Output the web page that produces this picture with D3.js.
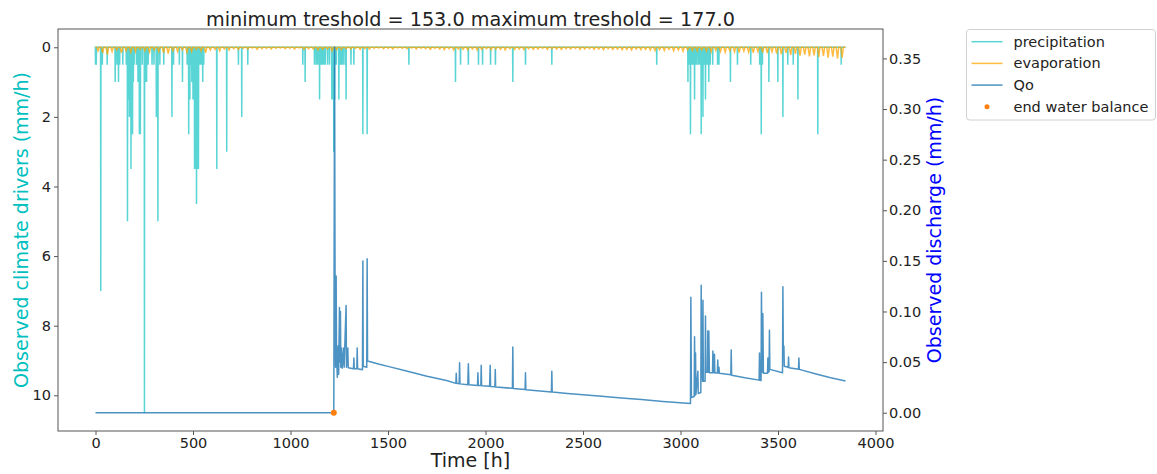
<!DOCTYPE html>
<html>
<head>
<meta charset="utf-8">
<script src="https://cdn.jsdelivr.net/npm/d3@7"></script>
<style>
  body { margin: 0; background: #fff; }
  svg { display: block; font-family: "DejaVu Sans", sans-serif; }
</style>
</head>
<body>
<div id="chart"></div>
<script>
// rain hours: [time (h), intensity (mm/h)]
var precipEvents = [[0, 0.5], [4, 0.5], [27, 7.0], [35, 0.5], [60, 0.5], [101, 1.0], [110, 0.5], [118, 1.0],
  [124, 0.5], [140, 0.5], [158, 0.5], [164, 5.0], [170, 1.5], [174, 2.0], [178, 1.5], [182, 3.5], [186, 2.0],
  [190, 2.5], [194, 1.0], [198, 0.5], [210, 0.5], [218, 1.0], [225, 2.5], [230, 2.5], [240, 0.5], [251, 10.5],
  [256, 1.0], [262, 1.0], [270, 0.5], [290, 0.5], [300, 0.5], [312, 2.0], [320, 5.0], [330, 0.5], [350, 0.5],
  [392, 2.0], [400, 0.5], [430, 0.5], [446, 1.0], [470, 0.5], [478, 2.5], [484, 1.5], [488, 0.5], [494, 1.0],
  [500, 1.5], [508, 3.5], [512, 3.5], [515, 3.5], [518, 4.5], [522, 3.5], [528, 3.5], [533, 0.5], [540, 0.5],
  [545, 0.5], [550, 1.0], [555, 0.5], [622, 3.5], [673, 3.0], [733, 0.5], [750, 2.0], [781, 0.5],
  [1063, 0.5], [1075, 1.0], [1123, 0.5], [1132, 0.5], [1140, 0.5], [1149, 1.5], [1155, 0.5], [1160, 0.5],
  [1165, 0.5], [1170, 0.5], [1178, 0.5], [1190, 0.5], [1200, 0.5], [1212, 1.5], [1217, 1.5], [1222, 3.0],
  [1226, 1.5], [1230, 0.5], [1235, 0.5], [1248, 1.5], [1255, 0.5], [1262, 0.5], [1270, 0.5], [1280, 0.5],
  [1285, 1.5], [1310, 0.5], [1325, 0.5], [1371, 2.5], [1393, 2.5], [1607, 0.5],
  [1846, 1.0], [1872, 0.5], [1912, 0.5], [1964, 0.5], [1985, 0.5], [2026, 0.5], [2051, 0.5], [2140, 1.0],
  [2205, 0.5], [2340, 0.5], [2878, 0.5],
  [3038, 1.0], [3045, 0.5], [3051, 2.5], [3058, 0.5], [3065, 0.5], [3072, 1.5], [3077, 0.5], [3081, 0.5],
  [3090, 0.5], [3097, 0.5], [3106, 2.5], [3115, 2.0], [3120, 0.5], [3128, 1.5], [3134, 0.5], [3140, 0.5],
  [3145, 1.0], [3152, 0.5], [3165, 0.5], [3190, 0.5], [3197, 0.5], [3256, 1.0], [3292, 0.5], [3360, 0.5],
  [3406, 0.5], [3414, 2.5], [3420, 0.5], [3453, 1.0], [3499, 1.0], [3525, 2.0], [3550, 0.5], [3578, 0.5],
  [3602, 1.5], [3704, 2.5], [3824, 0.5]];

// daily evaporation peak (mm/h), one value per day
var evapPeak = [0.10, 0.16, 0.21, 0.12, 0.08, 0.16, 0.10, 0.14, 0.12, 0.06,
  0.10, 0.14, 0.08, 0.12, 0.16, 0.18, 0.10, 0.12, 0.08, 0.14,
  0.12, 0.06, 0.10, 0.16, 0.08, 0.06, 0.10, 0.05, 0.08, 0.04,
  0.06, 0.03, 0.05, 0.02, 0.06, 0.04, 0.03, 0.05, 0.03, 0.02,
  0.04, 0.03, 0.05, 0.02, 0.06, 0.04, 0.05, 0.08, 0.06, 0.05,
  0.10, 0.07, 0.06, 0.04, 0.05, 0.03, 0.06, 0.04, 0.05, 0.03,
  0.02, 0.04, 0.03, 0.05, 0.02, 0.03, 0.04, 0.02, 0.05, 0.03,
  0.04, 0.06, 0.03, 0.05, 0.07, 0.04, 0.08, 0.05, 0.06, 0.07,
  0.05, 0.08, 0.06, 0.04, 0.07, 0.05, 0.06, 0.08, 0.04, 0.06,
  0.05, 0.07, 0.04, 0.06, 0.05, 0.03, 0.06, 0.04, 0.05, 0.06,
  0.04, 0.05, 0.03, 0.06, 0.05, 0.04, 0.06, 0.05, 0.07, 0.04,
  0.06, 0.05, 0.07, 0.06, 0.08, 0.05, 0.07, 0.06, 0.08, 0.09,
  0.07, 0.09, 0.06, 0.10, 0.08, 0.11, 0.07, 0.09, 0.10, 0.08,
  0.11, 0.13, 0.09, 0.12, 0.14, 0.10, 0.13, 0.15, 0.11, 0.14,
  0.16, 0.12, 0.15, 0.17, 0.13, 0.18, 0.20, 0.16, 0.22, 0.19,
  0.24, 0.21, 0.26, 0.23, 0.28, 0.25, 0.30, 0.27, 0.33, 0.30];

// observed discharge: [time (h), Qo (mm/h)]
var qoSeries = [[0, 0], [1222, 0], [1226, 0.361], [1229, 0.07], [1231, 0.045], [1234, 0.135], [1236, 0.06],
  [1240, 0.035], [1244, 0.066], [1247, 0.038], [1251, 0.104], [1253, 0.05], [1256, 0.10], [1258, 0.045],
  [1262, 0.064], [1265, 0.044], [1273, 0.064], [1275, 0.045], [1285, 0.106], [1287, 0.045], [1294, 0.064],
  [1296, 0.0445], [1323, 0.0435], [1325, 0.054], [1327, 0.0435], [1340, 0.0435], [1342, 0.064], [1344, 0.0435],
  [1369, 0.0425], [1371, 0.15], [1373, 0.046], [1391, 0.045], [1393, 0.152], [1395, 0.051],
  [1456, 0.0478], [1500, 0.0458], [1600, 0.0409], [1700, 0.036], [1800, 0.0318], [1848, 0.029], [1850, 0.039],
  [1852, 0.029], [1865, 0.0287],
  [1867, 0.0494], [1869, 0.0285], [1909, 0.0277], [1912, 0.0484], [1915, 0.0276], [1959, 0.027], [1961, 0.0395],
  [1963, 0.027], [1976, 0.0268], [1978, 0.047], [1980, 0.0267], [2021, 0.0262], [2024, 0.047], [2026, 0.026],
  [2048, 0.0256], [2050, 0.0428], [2052, 0.0255], [2138, 0.0241], [2140, 0.065], [2142, 0.024], [2203, 0.0229],
  [2205, 0.0395], [2207, 0.0228], [2338, 0.0205], [2340, 0.041], [2342, 0.0204],
  [2420, 0.019], [2500, 0.0177], [2580, 0.0165], [2653, 0.0154], [2730, 0.0141], [2800, 0.013], [2909, 0.0111],
  [2980, 0.0101], [3051, 0.0092], [3053, 0.114], [3056, 0.015],
  [3070, 0.016], [3072, 0.075], [3074, 0.017], [3077, 0.059], [3079, 0.018], [3089, 0.041], [3091, 0.019],
  [3104, 0.02], [3106, 0.126], [3108, 0.05], [3113, 0.031], [3115, 0.111], [3117, 0.031], [3126, 0.031],
  [3128, 0.0955], [3130, 0.04], [3138, 0.04], [3140, 0.0807], [3142, 0.04], [3145, 0.0807], [3148, 0.0395],
  [3164, 0.0395], [3166, 0.061], [3168, 0.0394], [3174, 0.0577], [3176, 0.0393], [3189, 0.0392], [3191, 0.052],
  [3193, 0.0392], [3197, 0.045], [3199, 0.039],
  [3258, 0.0375], [3260, 0.062], [3262, 0.037], [3330, 0.0345], [3403, 0.0322], [3405, 0.059], [3407, 0.032],
  [3413, 0.0318], [3415, 0.119], [3418, 0.045], [3420, 0.04], [3422, 0.098], [3425, 0.039], [3446, 0.039],
  [3448, 0.054], [3451, 0.04], [3454, 0.0405], [3456, 0.0814], [3458, 0.0428], [3523, 0.0395], [3525, 0.1245],
  [3527, 0.06], [3530, 0.066], [3532, 0.046], [3552, 0.045], [3554, 0.055], [3556, 0.0445], [3605, 0.043],
  [3607, 0.054], [3609, 0.0428], [3700, 0.038], [3770, 0.0345], [3846, 0.0313]];

var endBalance = [[1222, 0]];

var xTicks = [0, 500, 1000, 1500, 2000, 2500, 3000, 3500, 4000];
var leftTicks = [0, 2, 4, 6, 8, 10];
var rightTicks = [0, 0.05, 0.10, 0.15, 0.20, 0.25, 0.30, 0.35];

var minTreshold = 153.0, maxTreshold = 177.0;

var legendNames = ["precipitation", "evaporation", "Qo", "end water balance"];

(function () {
  var W = 1157, H = 474;
  var margin = { left: 58, right: 1157 - 883, top: 29, bottom: 474 - 431 };
  var width = W - margin.left - margin.right,
      height = H - margin.top - margin.bottom;

  var svg = d3.select("#chart").append("svg")
    .attr("width", W).attr("height", H);

  var g = svg.append("g")
    .attr("transform", "translate(" + margin.left + "," + margin.top + ")");

  var tMax = d3.max(qoSeries, function (d) { return d[0]; });
  var x = d3.scaleLinear().domain([-0.05 * tMax, 1.05 * tMax]).range([0, width]);
  var pMax = d3.max(precipEvents, function (d) { return d[1]; });
  var yLeft = d3.scaleLinear().domain([1.05 * pMax, -0.05 * pMax]).range([height, 0]);
  var qMax = d3.max(qoSeries, function (d) { return d[1]; });
  var yRight = d3.scaleLinear().domain([-0.05 * qMax, 1.05 * qMax]).range([height, 0]);

  // precipitation as hourly series: zero except on rain hours
  var precip = [[0, 0]];
  precipEvents.forEach(function (e) {
    precip.push([e[0] - 1, 0], [e[0], e[1]], [e[0] + 1, 0]);
  });
  precip.push([tMax, 0]);

  // evaporation: daily cycle, zero at night
  var evap = [[0, 0]];
  evapPeak.forEach(function (v, d) {
    evap.push([24 * d + 6, 0], [24 * d + 13, v], [24 * d + 19, 0]);
  });
  evap.push([tMax, 0]);

  var lineLeft = d3.line()
    .x(function (d) { return x(d[0]); })
    .y(function (d) { return yLeft(d[1]); });
  var lineRight = d3.line()
    .x(function (d) { return x(d[0]); })
    .y(function (d) { return yRight(d[1]); });

  var cPrec = "#00bfbf", cEvap = "#ffa500", cQo = "#1f77b4", cDot = "#ff7f0e";

  g.append("path").datum(precip)
    .attr("d", lineLeft)
    .attr("fill", "none").attr("stroke", cPrec)
    .attr("stroke-opacity", 0.65).attr("stroke-width", 1.5);

  g.append("path").datum(evap)
    .attr("d", lineLeft)
    .attr("fill", "none").attr("stroke", cEvap)
    .attr("stroke-opacity", 0.75).attr("stroke-width", 1.5);

  g.append("path").datum(qoSeries)
    .attr("d", lineRight)
    .attr("fill", "none").attr("stroke", cQo)
    .attr("stroke-opacity", 0.8).attr("stroke-width", 1.5)
    .attr("stroke-linejoin", "round");

  g.selectAll("circle.endbal")
    .data(endBalance)
    .enter().append("circle")
    .attr("class", "endbal")
    .attr("cx", function (d) { return x(d[0]); })
    .attr("cy", function (d) { return yRight(d[1]); })
    .attr("r", 3)
    .attr("fill", cDot);

  // frame
  g.append("rect")
    .attr("width", width).attr("height", height)
    .attr("fill", "none").attr("stroke", "#555").attr("stroke-width", 1);

  var styleAxis = function (sel) {
    sel.select(".domain").remove();
    sel.selectAll(".tick line").attr("stroke", "#555");
    sel.selectAll(".tick text")
      .attr("fill", "#222")
      .style("font-size", "14.5px")
      .style("font-family", "DejaVu Sans, sans-serif");
  };

  g.append("g")
    .attr("transform", "translate(0," + height + ")")
    .call(d3.axisBottom(x).tickValues(xTicks).tickSize(4).tickPadding(3).tickFormat(d3.format("d")))
    .call(styleAxis);

  g.append("g")
    .call(d3.axisLeft(yLeft).tickValues(leftTicks).tickSize(4).tickPadding(3).tickFormat(d3.format("d")))
    .call(styleAxis);

  g.append("g")
    .attr("transform", "translate(" + width + ",0)")
    .call(d3.axisRight(yRight).tickValues(rightTicks).tickSize(4).tickPadding(2).tickFormat(d3.format(".2f")))
    .call(styleAxis);

  // titles
  svg.append("text")
    .attr("x", margin.left + width / 2).attr("y", 25.5)
    .attr("text-anchor", "middle")
    .style("font-size", "19.2px").attr("fill", "#222")
    .text("minimum treshold = " + minTreshold.toFixed(1) + " maximum treshold = " + maxTreshold.toFixed(1));

  svg.append("text")
    .attr("x", margin.left + width / 2).attr("y", 467)
    .attr("text-anchor", "middle")
    .style("font-size", "19px").attr("fill", "#222")
    .text("Time [h]");

  svg.append("text")
    .attr("transform", "translate(27.5," + (margin.top + height / 2) + ") rotate(-90)")
    .attr("text-anchor", "middle")
    .style("font-size", "19px").attr("fill", cPrec)
    .text("Observed climate drivers (mm/h)");

  svg.append("text")
    .attr("transform", "translate(940.5," + (margin.top + height / 2) + ") rotate(-90)")
    .attr("text-anchor", "middle")
    .style("font-size", "19px").attr("fill", "#0000ff")
    .text("Observed discharge (mm/h)");

  // legend
  var lg = svg.append("g").attr("transform", "translate(966.5,29.5)");
  lg.append("rect")
    .attr("width", 189).attr("height", 90.5).attr("rx", 3)
    .attr("fill", "#fff").attr("fill-opacity", 0.8)
    .attr("stroke", "#d0d0d0").attr("stroke-width", 1);

  var legendColors = [cPrec, cEvap, cQo, cDot];
  var legendAlpha = [0.65, 0.75, 0.8, 1];
  var rows = lg.selectAll("g.row")
    .data(legendNames)
    .enter().append("g")
    .attr("class", "row")
    .attr("transform", function (d, i) { return "translate(0," + (12.2 + i * 21.7) + ")"; });

  rows.filter(function (d, i) { return i < 3; })
    .append("line")
    .attr("x1", 5).attr("x2", 36)
    .attr("stroke", function (d, i) { return legendColors[i]; })
    .attr("stroke-opacity", function (d, i) { return legendAlpha[i]; })
    .attr("stroke-width", 1.5);

  rows.filter(function (d, i) { return i === 3; })
    .append("circle")
    .attr("cx", 20.5).attr("r", 2.5)
    .attr("fill", cDot);

  rows.append("text")
    .attr("x", 47).attr("dy", "0.35em")
    .style("font-size", "14.5px").attr("fill", "#222")
    .text(function (d) { return d; });
})();
</script>
</body>
</html>
